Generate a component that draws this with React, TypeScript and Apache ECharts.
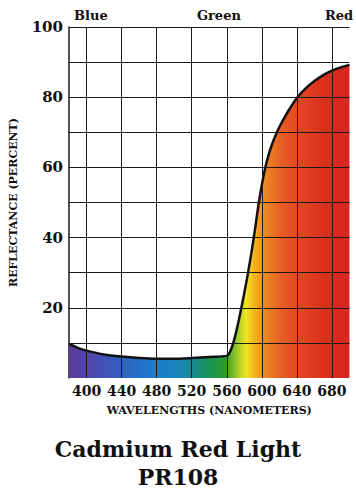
import React, { useEffect, useRef } from "react";
import * as echarts from "echarts";

const wavelengths = [380, 390, 400, 420, 440, 460, 480, 500, 520, 540, 560, 564, 568, 572, 576, 580, 584, 588, 592, 596, 600, 604, 608, 612, 616, 620, 630, 640, 650, 660, 670, 680, 690, 700];
const reflectance = [9.8, 8.6, 7.8, 6.7, 6.1, 5.7, 5.5, 5.5, 5.7, 6.0, 6.3, 7.6, 10.5, 14.5, 19.2, 24.2, 29.6, 35.5, 42, 49, 55, 60, 63.8, 66.8, 69.3, 71.5, 76, 79.8, 82.5, 84.6, 86.3, 87.6, 88.5, 89.2];
const xTickLabels = [400, 440, 480, 520, 560, 600, 640, 680];
const yTickLabels = [20, 40, 60, 80, 100];
const yGridValues = [10, 20, 30, 40, 50, 60, 70, 80, 90, 100];
const bandNames = ["Blue", "Green", "Red"];
const bandPositions = [405, 551, 688];
const spectrumStops: [number, string][] = [
  [380, "#5b3a9a"], [410, "#4a4ab0"], [440, "#2e62c0"], [470, "#1f78cc"], [500, "#1a82c4"],
  [520, "#1a8a90"], [540, "#1a9455"], [558, "#2a9a30"], [570, "#8cc428"], [582, "#f2e622"],
  [592, "#f2b020"], [605, "#ec8424"], [625, "#e65a24"], [650, "#e0401e"], [680, "#d82a1c"], [700, "#d82620"],
];

const FONT = "DejaVu Serif";

export default function App() {
  const ref = useRef<HTMLDivElement>(null);
  useEffect(() => {
    document.body.style.margin = "0";
    const chart = echarts.init(ref.current!, null, { renderer: "svg" });
    const xMin = 380, xMax = 700;
    const pts = wavelengths.map((w, i) => [w, reflectance[i]]);
    const gradient = new echarts.graphic.LinearGradient(0, 0, 1, 0,
      spectrumStops.map(([w, c]) => ({ offset: (w - xMin) / (xMax - xMin), color: c })));
    const gridLine = { color: "#1a1a1a", width: 1, type: "solid" as const };
    chart.setOption({
      animation: false,
      backgroundColor: "#ffffff",
      title: {
        text: "Cadmium Red Light\nPR108",
        left: "center",
        top: 430,
        textStyle: { fontFamily: FONT, fontWeight: "bold", fontSize: 22, lineHeight: 28, color: "#111" },
      },
      grid: { left: 68, right: 0, top: 27, bottom: 111 },
      xAxis: [
        {
          type: "value", min: xMin, max: xMax, position: "bottom",
          name: "WAVELENGTHS (NANOMETERS)", nameLocation: "middle", nameGap: 27,
          nameTextStyle: { fontFamily: FONT, fontWeight: "bold", fontSize: 11, color: "#111" },
          axisLine: { show: false }, axisTick: { show: false }, splitLine: { show: false },
          axisLabel: { customValues: xTickLabels, fontFamily: FONT, fontWeight: "bold", fontSize: 14, color: "#111", margin: 6 },
        },
        {
          type: "value", min: xMin, max: xMax, position: "top",
          axisLine: { show: false }, axisTick: { show: false }, splitLine: { show: false },
          axisLabel: {
            customValues: bandPositions, fontFamily: FONT, fontWeight: "bold", fontSize: 13, color: "#111", margin: 5,
            formatter: (v: number) => bandNames[bandPositions.indexOf(Math.round(v))] ?? "",
          },
        },
      ],
      yAxis: {
        type: "value", min: 0, max: 100, interval: 10,
        name: "REFLECTANCE (PERCENT)", nameLocation: "middle", nameGap: 50, nameRotate: 90,
        nameTextStyle: { fontFamily: FONT, fontWeight: "bold", fontSize: 11, color: "#111" },
        axisLine: { show: true, lineStyle: { color: "#1a1a1a", width: 1.5 } },
        axisTick: { show: false }, splitLine: { show: false },
        axisLabel: { customValues: yTickLabels, fontFamily: FONT, fontWeight: "bold", fontSize: 15, color: "#111", margin: 6 },
      },
      series: [
        {
          type: "line", data: pts, z: 1, smooth: 0.3, symbol: "none",
          lineStyle: { width: 0, opacity: 0 }, areaStyle: { color: gradient, opacity: 1 }, silent: true,
        },
        {
          type: "line", data: pts, z: 2, symbol: "none", lineStyle: { opacity: 0, width: 0 }, silent: true,
          markLine: {
            silent: true, symbol: "none", label: { show: false }, lineStyle: gridLine, animation: false,
            data: [
              ...xTickLabels.map((v) => ({ xAxis: v })),
              ...yGridValues.map((v) => ({ yAxis: v })),
            ],
          },
        },
        {
          type: "line", data: pts, z: 3, smooth: 0.3, symbol: "none",
          lineStyle: { color: "#111", width: 2.5 }, silent: true,
        },
      ],
    });
    return () => chart.dispose();
  }, []);
  return <div ref={ref} style={{ width: 356, height: 489 }} />;
}
